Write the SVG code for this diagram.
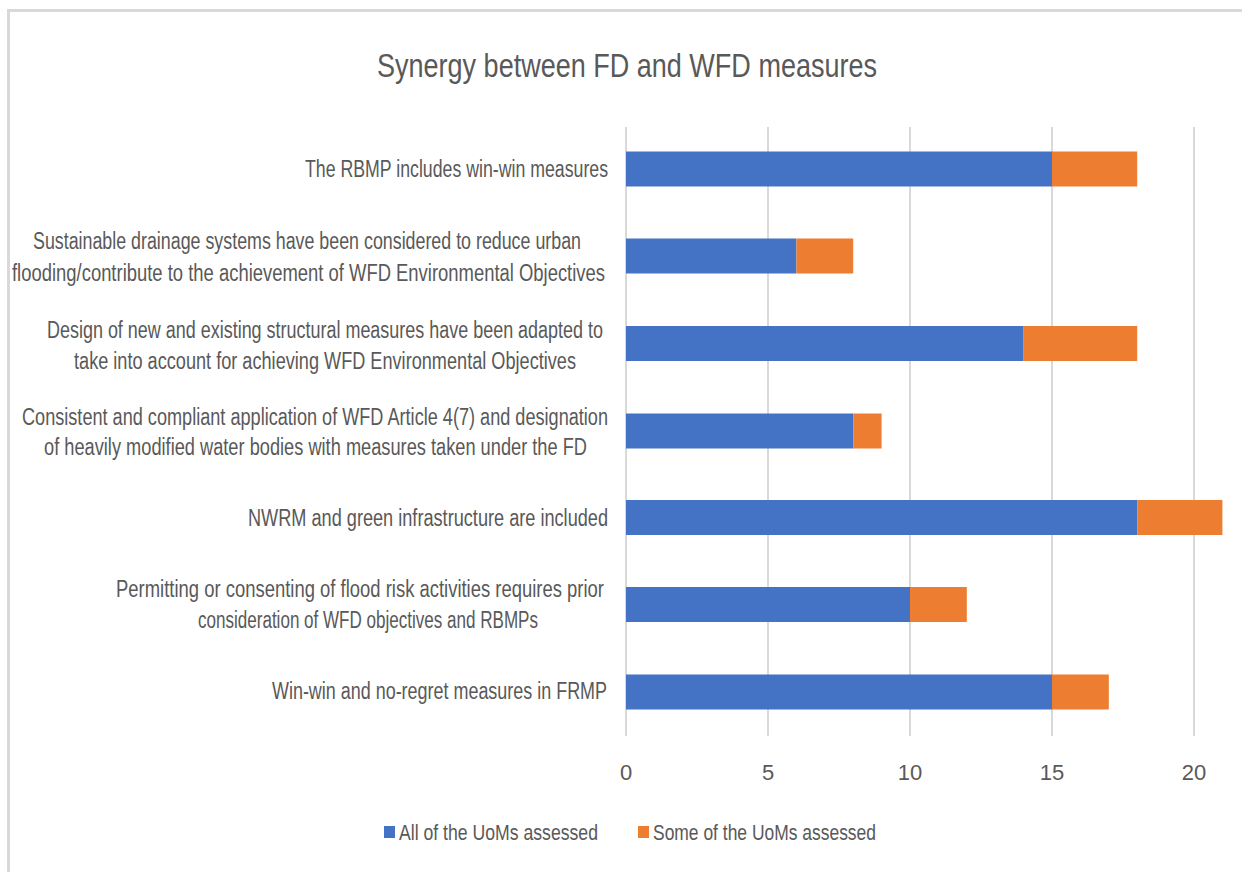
<svg xmlns="http://www.w3.org/2000/svg" width="1242" height="872" viewBox="0 0 1242 872">
<style>
.t{font-family:"Liberation Sans",Arial,sans-serif;fill:#595959;}
.lbl{font-size:23px;}
.ax{font-size:22px;text-anchor:middle;}
.grid{stroke:#d9d9d9;stroke-width:2;}
.b{fill:#4472C4;}
.o{fill:#ED7D31;}
</style>
<rect x="0" y="0" width="1242" height="872" fill="#ffffff"/>
<g id="frame">
<line x1="7" y1="10.5" x2="1242" y2="10.5" stroke="#d9d9d9" stroke-width="3"/>
<line x1="8.5" y1="9" x2="8.5" y2="872" stroke="#d9d9d9" stroke-width="3"/>
</g>
<text id="title" class="t" x="377" y="77" font-size="34" textLength="500" lengthAdjust="spacingAndGlyphs">Synergy between FD and WFD measures</text>
<g id="gridlines">
<line class="grid" x1="626" y1="127" x2="626" y2="736"/>
<line class="grid" x1="768" y1="127" x2="768" y2="736"/>
<line class="grid" x1="910" y1="127" x2="910" y2="736"/>
<line class="grid" x1="1052" y1="127" x2="1052" y2="736"/>
<line class="grid" x1="1194" y1="127" x2="1194" y2="736"/>
</g>
<g id="axis-labels">
<text class="t ax" x="626" y="780">0</text>
<text class="t ax" x="768" y="780">5</text>
<text class="t ax" x="910" y="780">10</text>
<text class="t ax" x="1052" y="780">15</text>
<text class="t ax" x="1194" y="780">20</text>
</g>
<g id="row1">
<text class="t lbl" x="305" y="177" textLength="303" lengthAdjust="spacingAndGlyphs">The RBMP includes win-win measures</text>
<rect class="b" x="626" y="151.5" width="426" height="35"/>
<rect class="o" x="1052" y="151.5" width="85.2" height="35"/>
</g>
<g id="row2">
<text class="t lbl" x="33" y="249" textLength="548" lengthAdjust="spacingAndGlyphs">Sustainable drainage systems have been considered to reduce urban</text>
<text class="t lbl" x="12" y="281" textLength="593" lengthAdjust="spacingAndGlyphs">flooding/contribute to the achievement of WFD Environmental Objectives</text>
<rect class="b" x="626" y="238.5" width="170.4" height="35"/>
<rect class="o" x="796.4" y="238.5" width="56.8" height="35"/>
</g>
<g id="row3">
<text class="t lbl" x="47" y="338" textLength="556" lengthAdjust="spacingAndGlyphs">Design of new and existing structural measures have been adapted to</text>
<text class="t lbl" x="74" y="369" textLength="502" lengthAdjust="spacingAndGlyphs">take into account for achieving WFD Environmental Objectives</text>
<rect class="b" x="626" y="326" width="397.6" height="35"/>
<rect class="o" x="1023.6" y="326" width="113.6" height="35"/>
</g>
<g id="row4">
<text class="t lbl" x="22" y="425" textLength="586" lengthAdjust="spacingAndGlyphs">Consistent and compliant application of WFD Article 4(7) and designation</text>
<text class="t lbl" x="44" y="455" textLength="543" lengthAdjust="spacingAndGlyphs">of heavily modified water bodies with measures taken under the FD</text>
<rect class="b" x="626" y="413.5" width="227.2" height="35"/>
<rect class="o" x="853.2" y="413.5" width="28.4" height="35"/>
</g>
<g id="row5">
<text class="t lbl" x="248" y="526" textLength="360" lengthAdjust="spacingAndGlyphs">NWRM and green infrastructure are included</text>
<rect class="b" x="626" y="500" width="511.2" height="35"/>
<rect class="o" x="1137.2" y="500" width="85.2" height="35"/>
</g>
<g id="row6">
<text class="t lbl" x="116" y="597" textLength="488" lengthAdjust="spacingAndGlyphs">Permitting or consenting of flood risk activities requires prior</text>
<text class="t lbl" x="198" y="628" textLength="340" lengthAdjust="spacingAndGlyphs">consideration of WFD objectives and RBMPs</text>
<rect class="b" x="626" y="587" width="284" height="35"/>
<rect class="o" x="910" y="587" width="56.8" height="35"/>
</g>
<g id="row7">
<text class="t lbl" x="272" y="699" textLength="335" lengthAdjust="spacingAndGlyphs">Win-win and no-regret measures in FRMP</text>
<rect class="b" x="626" y="674.5" width="426" height="35"/>
<rect class="o" x="1052" y="674.5" width="56.8" height="35"/>
</g>
<g id="legend">
<rect class="b" x="384" y="826" width="11" height="12"/>
<text class="t" x="399" y="840" font-size="22" textLength="199" lengthAdjust="spacingAndGlyphs">All of the UoMs assessed</text>
<rect class="o" x="638" y="826" width="11" height="12"/>
<text class="t" x="653" y="840" font-size="22" textLength="223" lengthAdjust="spacingAndGlyphs">Some of the UoMs assessed</text>
</g>
</svg>
